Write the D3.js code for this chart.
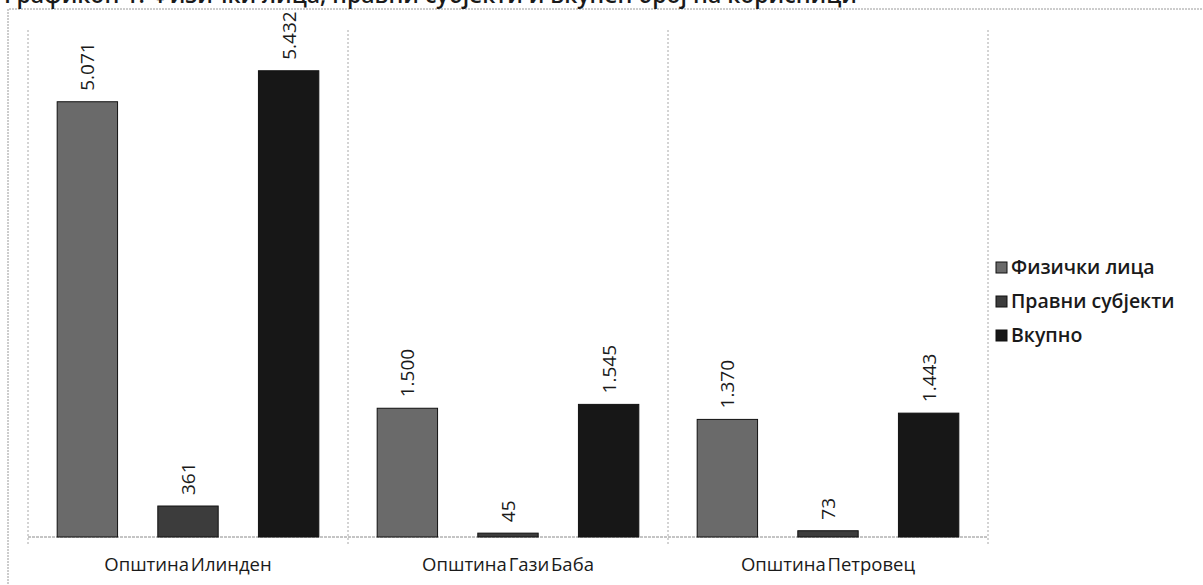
<!DOCTYPE html>
<html>
<head>
<meta charset="utf-8">
<title>Корисници по општини</title>
<script src="https://d3js.org/d3.v7.min.js"></script>
<style>
  body { margin: 0; background: #fff; }
  svg { display: block; }
  text { font-family: "Open Sans", "Noto Sans", sans-serif; fill: #1a1a1a; }
</style>
</head>
<body>
<svg width="1203" height="585"></svg>
<script>
// data
var municipalities = ["Општина Илинден", "Општина Гази Баба", "Општина Петровец"];
var seriesNames = ["Физички лица", "Правни субјекти", "Вкупно"];
var fizicki = [5071, 1500, 1370];
var pravni = [361, 45, 73];
var vkupno = [5432, 1545, 1443];
var seriesColors = ["#6a6a6a", "#3c3c3c", "#171717"];
var titleText = "Графикон 1: Физички лица, правни субјекти и вкупен број на корисници";

var svg = d3.select("svg");

var rows = municipalities.map(function (m, i) {
  return { name: m, values: [fizicki[i], pravni[i], vkupno[i]] };
});

var x0 = d3.scaleBand().domain(municipalities).range([28, 988]);
var x1 = d3.scaleBand().domain(seriesNames).range([0, x0.bandwidth()])
  .paddingInner(0.4).paddingOuter(0.29);
var y = d3.scaleLinear().domain([0, 6000]).range([537, 22]);
var color = d3.scaleOrdinal().domain(seriesNames).range(seriesColors);

// outer chart border (scan shows a dotted frame)
svg.append("path")
  .attr("d", "M8,590 L8,9 L1210,9")
  .attr("fill", "none")
  .attr("stroke", "#9a9a9a")
  .attr("stroke-dasharray", "2,1");

// title, mostly cut off at the top of the scan
svg.append("text")
  .attr("x", 4).attr("y", 3)
  .style("font-size", "23px")
  .style("font-weight", "600")
  .text(titleText);

// category separators
svg.append("g").selectAll("line")
  .data([28].concat(municipalities.map(function (m) { return x0(m) + x0.bandwidth(); })))
  .enter().append("line")
  .attr("x1", function (d) { return d; }).attr("x2", function (d) { return d; })
  .attr("y1", 30).attr("y2", 545)
  .attr("stroke", "#a8a8a8")
  .attr("stroke-dasharray", "2,2");

// baseline
svg.append("line")
  .attr("x1", 28).attr("x2", 988)
  .attr("y1", y(0)).attr("y2", y(0))
  .attr("stroke", "#8a8a8a")
  .attr("stroke-dasharray", "3,1");

var groups = svg.append("g").selectAll("g")
  .data(rows)
  .enter().append("g")
  .attr("transform", function (d) { return "translate(" + x0(d.name) + ",0)"; });

var cells = groups.selectAll("g")
  .data(function (d) {
    return d.values.map(function (v, i) { return { key: seriesNames[i], value: v }; });
  })
  .enter().append("g");

cells.append("rect")
  .attr("x", function (d) { return x1(d.key); })
  .attr("y", function (d) { return y(d.value); })
  .attr("width", x1.bandwidth())
  .attr("height", function (d) { return y(0) - y(d.value); })
  .attr("fill", function (d) { return color(d.key); })
  .attr("stroke", "#111")
  .attr("stroke-width", 1);

var fmt = function (v) { return d3.format(",")(v).replace(/,/g, "."); };

cells.append("text")
  .attr("transform", function (d) {
    return "translate(" + (x1(d.key) + x1.bandwidth() / 2 + 7) + "," + (y(d.value) - 11) + ") rotate(-90)";
  })
  .style("font-size", "19px")
  .text(function (d) { return fmt(d.value); });

// category labels
svg.append("g").selectAll("text")
  .data(municipalities)
  .enter().append("text")
  .attr("x", function (d) { return x0(d) + x0.bandwidth() / 2; })
  .attr("y", 571)
  .attr("text-anchor", "middle")
  .style("font-size", "18.5px")
  .style("word-spacing", "-3px")
  .text(function (d) { return d; });

// legend
var legend = svg.append("g").selectAll("g")
  .data(seriesNames)
  .enter().append("g")
  .attr("transform", function (d, i) { return "translate(996," + (262 + i * 34) + ")"; });

legend.append("rect")
  .attr("width", 11).attr("height", 11)
  .attr("fill", function (d) { return color(d); })
  .attr("stroke", "#111");

legend.append("text")
  .attr("x", 15).attr("y", 12)
  .style("font-size", "19.5px")
  .style("font-weight", "600")
  .text(function (d) { return d; });
</script>
</body>
</html>
